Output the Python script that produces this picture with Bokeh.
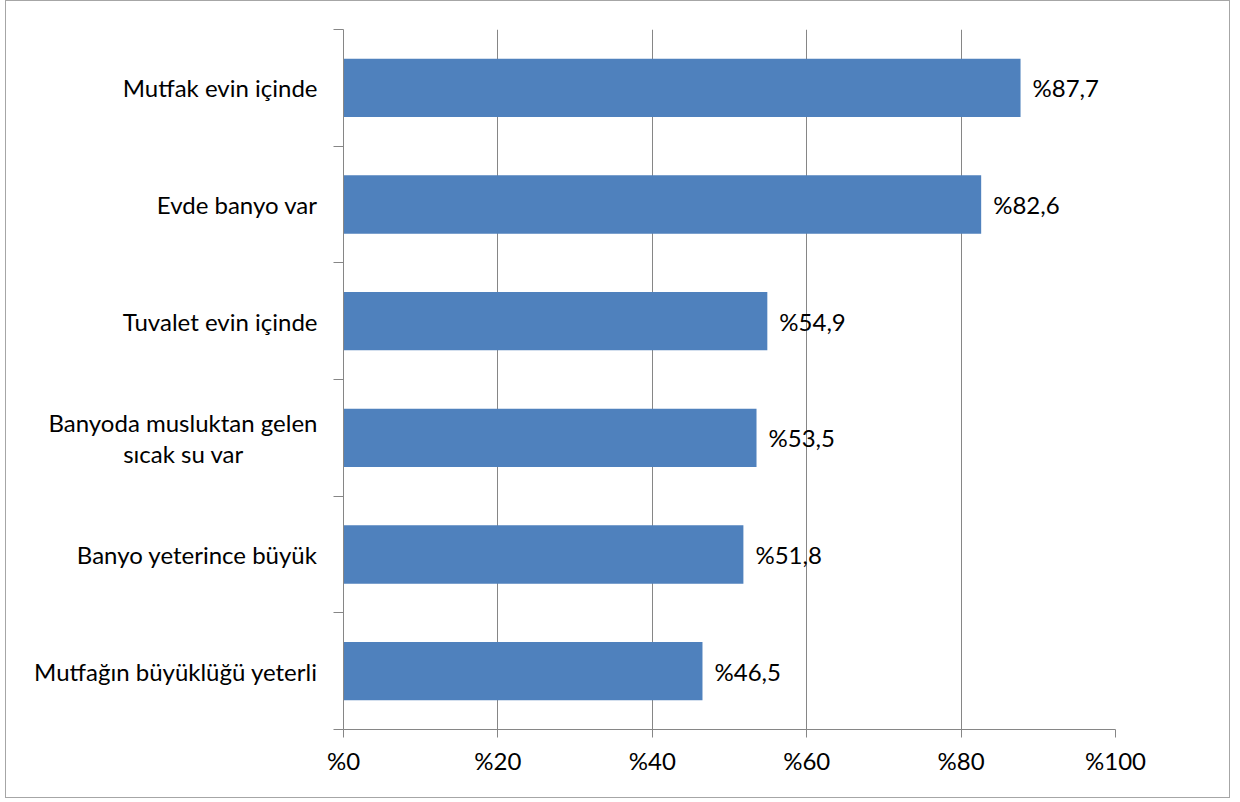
from bokeh.plotting import figure
from bokeh.models import FixedTicker, Range1d, ColumnDataSource
from bokeh.core.properties import value
from bokeh.embed import file_html
from bokeh.resources import INLINE

categories = ["Mutfak evin içinde", "Evde banyo var", "Tuvalet evin içinde",
              "Banyoda musluktan gelen\nsıcak su var            ",
              "Banyo yeterince büyük",
              "Mutfağın büyüklüğü yeterli"]
values = [87.7, 82.6, 54.9, 53.5, 51.8, 46.5]
x_ticks = [0, 20, 40, 60, 80, 100]
x_tick_labels = ["%0", "%20", "%40", "%60", "%80", "%100"]

FONT = "Lato"
FS = "24px"
n = len(categories)
ypos = [n - 1 - i for i in range(n)]
labels = ["%" + f"{v:.1f}".replace(".", ",") for v in values]

src = ColumnDataSource(dict(y=ypos, v=values, lab=labels))

W, H = 1225, 798
p = figure(width=W, height=H, output_backend="svg", toolbar_location=None,
           x_range=Range1d(0, 100), y_range=Range1d(-0.5, n - 0.5),
           min_border_left=337, min_border_right=116, min_border_top=28,
           min_border_bottom=70)
p.styles = {"border": "1px solid #a6a6a6", "margin-left": "5px"}
p.outline_line_color = None
p.background_fill_color = "white"
p.border_fill_color = "white"

p.hbar(y="y", right="v", left=0, height=0.5, source=src,
       fill_color="#4f81bd", line_color=None)
p.text(x="v", y="y", text="lab", source=src, x_offset=12,
       text_baseline="middle", text_align="left",
       text_font=value(FONT), text_font_size=FS, text_color="black")

# x axis
xa = p.xaxis[0]
xa.ticker = FixedTicker(ticks=x_ticks)
xa.major_label_overrides = {t: l for t, l in zip(x_ticks, x_tick_labels)}
xa.major_tick_in = 0
xa.major_tick_out = 8
xa.minor_tick_line_color = None
xa.axis_line_color = "#868686"
xa.major_tick_line_color = "#868686"
xa.major_label_text_font = FONT
xa.major_label_text_font_size = FS
xa.major_label_text_color = "black"
xa.major_label_standoff = 8

# y axis
ya = p.yaxis[0]
ya.ticker = FixedTicker(ticks=ypos, minor_ticks=[y - 0.5 for y in range(n + 1)])
ya.major_label_overrides = {y: c for y, c in zip(ypos, categories)}
ya.major_tick_in = 0
ya.major_tick_out = 0
ya.minor_tick_in = 0
ya.minor_tick_out = 10
ya.minor_tick_line_color = "#868686"
ya.axis_line_color = "#868686"
ya.major_label_text_font = FONT
ya.major_label_text_font_size = FS
ya.major_label_text_color = "black"
ya.major_label_text_line_height = 1.07
ya.major_label_standoff = 16

p.xgrid.ticker = FixedTicker(ticks=x_ticks)
p.xgrid.grid_line_color = "#868686"
p.ygrid.grid_line_color = None

open("out.html", "w").write(file_html(p, INLINE))
